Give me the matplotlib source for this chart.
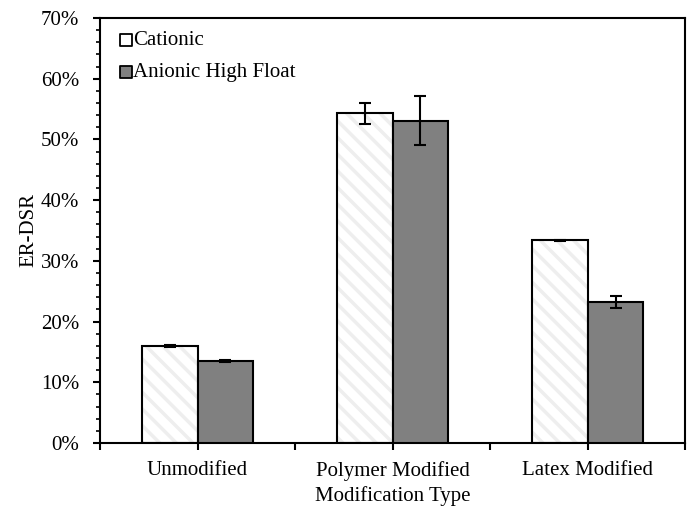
import numpy as np
import matplotlib
matplotlib.use("Agg")
import matplotlib.pyplot as plt
from matplotlib.ticker import MultipleLocator, PercentFormatter, FixedLocator

plt.rcParams['font.family'] = ['Liberation Serif', 'DejaVu Serif']
plt.rcParams['hatch.linewidth'] = 2.5

# data
categories = ['Unmodified', 'Polymer Modified', 'Latex Modified']
cationic = [16.0, 54.3, 33.4]
cationic_err = [0.2, 1.7, 0.1]
anionic = [13.5, 53.1, 23.2]
anionic_err = [0.1, 4.1, 0.95]

fig = plt.figure(figsize=(6.93, 5.13), dpi=100)
ax = fig.add_axes([0.1443, 0.1365, 0.8442, 0.8284])

x = np.arange(len(categories))
w = 0.287

# cationic: light hatch on white, then black outline
ax.bar(x - w / 2, cationic, w, color='white', edgecolor='#eeeeee',
       hatch='\\\\', linewidth=0, zorder=2)
ax.bar(x - w / 2, cationic, w, fill=False, edgecolor='black',
       linewidth=1.5, zorder=3)
ax.bar(x + w / 2, anionic, w, color='#808080', edgecolor='black',
       linewidth=1.5, zorder=3)

ax.errorbar(x - w / 2, cationic, yerr=cationic_err, fmt='none',
            ecolor='black', elinewidth=1.5, capsize=4.5, capthick=1.5, zorder=4)
ax.errorbar(x + w / 2, anionic, yerr=anionic_err, fmt='none',
            ecolor='black', elinewidth=1.5, capsize=4.5, capthick=1.5, zorder=4)

# legend proxies
ax.scatter([], [], marker='s', s=75, facecolor='white', edgecolor='black',
           linewidths=1.3, label='Cationic')
ax.scatter([], [], marker='s', s=75, facecolor='#808080', edgecolor='black',
           linewidths=1.3, label='Anionic High Float')
ax.legend(loc='upper left', frameon=False, fontsize=15, handletextpad=-0.25,
          labelspacing=0.6, borderaxespad=0.0, handlelength=1.2,
          bbox_to_anchor=(0.008, 0.99))

ax.set_xlim(-0.5, 2.5)
ax.set_ylim(0, 70)
ax.xaxis.set_major_locator(FixedLocator([-0.5, 0, 0.5, 1, 1.5, 2, 2.5]))
ax.set_xticklabels(['', categories[0], '', categories[1], '', categories[2], ''])
ax.yaxis.set_major_locator(MultipleLocator(10))
ax.yaxis.set_minor_locator(MultipleLocator(2))
ax.yaxis.set_major_formatter(PercentFormatter(decimals=0))

for s in ax.spines.values():
    s.set_linewidth(1.5)
ax.tick_params(axis='both', which='major', direction='out', length=5,
               width=1.5, labelsize=15)
ax.tick_params(axis='y', which='minor', direction='out', length=3, width=1.2)
ax.tick_params(axis='x', pad=8)
ax.tick_params(axis='y', pad=10)

ax.set_xlabel('Modification Type', fontsize=15, labelpad=4)
ax.set_ylabel('ER-DSR', fontsize=15, labelpad=2)

fig.savefig('out.png', dpi=100)
